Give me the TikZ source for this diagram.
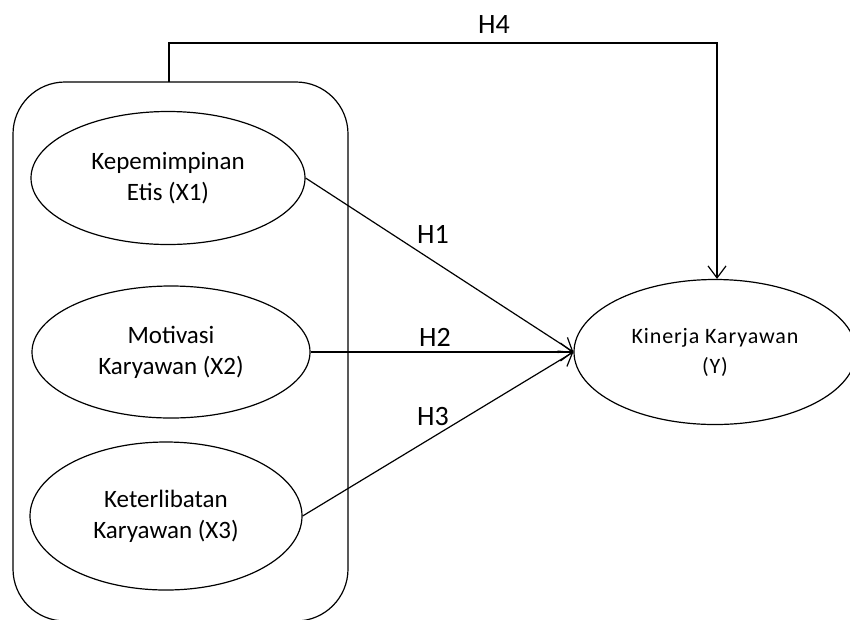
\documentclass[tikz,border=0pt]{standalone}
\usepackage{fontspec}
\setmainfont{Carlito}
\usetikzlibrary{arrows.meta,shapes.geometric}
\begin{document}
\begin{tikzpicture}[x=1pt,y=-1pt,line width=1.2pt,
  var/.style={draw,ellipse,inner sep=0pt,align=center,
    font=\fontsize{25}{31}\selectfont},
  hlabel/.style={font=\fontsize{28}{32}\selectfont},
  arr/.style={-{Straight Barb[length=12pt,width=18pt,line width=1.2pt]}}]
\useasboundingbox (0,0) rectangle (850,619);
\begin{scope}
\clip (0,0) rectangle (850,619);
\draw[rounded corners=52pt] (13,82) rectangle (348,621);
\node[var,minimum width=282pt,minimum height=145pt,
  font=\fontsize{22}{30}\selectfont\addfontfeatures{LetterSpace=4}]
  (y) at (715,352) {Kinerja Karyawan\\(Y)};
\end{scope}
\coordinate (hstart) at (169,82);
\coordinate (hcorner) at (717,43);
\node[var,minimum width=274pt,minimum height=133pt] (x1) at (168,178) {Kepemimpinan\\Etis (X1)};
\node[var,minimum width=278pt,minimum height=132pt] (x2) at (171,352) {Motivasi\\Karyawan (X2)};
\node[var,minimum width=272pt,minimum height=148pt] (x3) at (166,516) {Keterlibatan\\Karyawan (X3)};
\draw[arr] (x1.east) -- (y.west);
\draw[arr] (x2.east) -- (y.west);
\draw[arr] (x3.east) -- (y.west);
\draw[arr] (hstart) |- (hcorner) -- (hcorner |- y.north);
\node[hlabel] (h4) at (494,25) {H4};
\node[hlabel] (h1) at (433,234) {H1};
\node[hlabel] (h2) at (435,337) {H2};
\node[hlabel] (h3) at (433,416) {H3};
\end{tikzpicture}
\end{document}
